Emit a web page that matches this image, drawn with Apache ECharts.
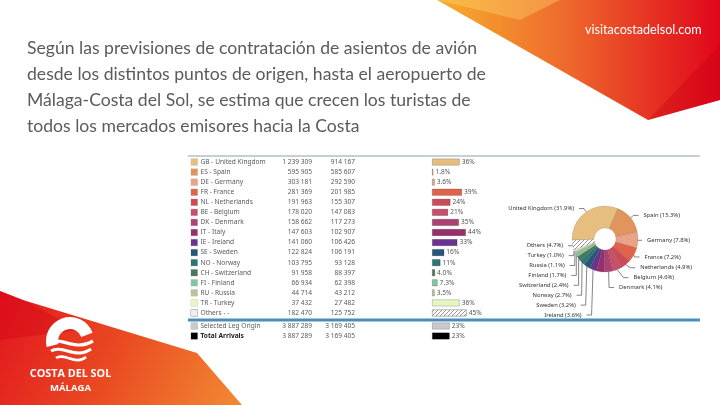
<!DOCTYPE html>
<html><head><meta charset="utf-8">
<script src="https://cdn.jsdelivr.net/npm/echarts@6/dist/echarts.min.js"></script>
<style>html,body{margin:0;padding:0;background:#fff;overflow:hidden}#c{width:720px;height:405px}</style>
</head><body><div id="c"></div>
<script>
// ---------- data ----------
const titleLines = [
  'Según las previsiones de contratación de asientos de avión',
  'desde los distintos puntos de origen, hasta el aeropuerto de',
  'Málaga-Costa del Sol, se estima que crecen los turistas de',
  'todos los mercados emisores hacia la Costa'
];
const siteText = 'visitacostadelsol.com';
const logoLine1 = 'COSTA DEL SOL';
const logoLine2 = 'MÁLAGA';

const marketLabels = ['GB - United Kingdom','ES - Spain','DE - Germany','FR - France','NL - Netherlands','BE - Belgium','DK - Denmark','IT - Italy','IE - Ireland','SE - Sweden','NO - Norway','CH - Switzerland','FI - Finland','RU - Russia','TR - Turkey','Others - -'];
const pieNames = ['United Kingdom','Spain','Germany','France','Netherlands','Belgium','Denmark','Italy','Ireland','Sweden','Norway','Switzerland','Finland','Russia','Turkey','Others'];
const seatsCurrent = [1239309,595905,303181,281369,191963,178020,158662,147603,141060,122824,103795,91958,66934,44714,37432,182470];
const seatsPrevious = [914167,585607,292590,201985,155307,147083,117273,102907,106426,106191,93128,88397,62398,43212,27482,125752];
const growthPct = [36,1.8,3.6,39,24,21,35,44,33,16,11,4.0,7.3,3.5,36,45];
const marketColors = ['#e6bf7f','#df955c','#e9a386','#e0634c','#cd4a58','#c84f6a','#ad4173','#96306b','#6b3391','#26567a','#2b7574','#4c765c','#83c59d','#b9c39c','#e6f5c2','#eeeeee'];

const totalLabels = ['Selected Leg Origin','Total Arrivals'];
const totalCurrent = [3887289,3887289];
const totalPrevious = [3169405,3169405];
const totalGrowth = [23,23];
const totalColors = ['#c9c9c9','#000000'];

// ---------- helpers ----------
function fmt(n){ return String(n).replace(/\B(?=(\d{3})+(?!\d))/g,' '); }
function hatch(){
  const c = document.createElement('canvas'); c.width = 4; c.height = 4;
  const g = c.getContext('2d');
  g.fillStyle = '#ffffff'; g.fillRect(0,0,4,4);
  g.strokeStyle = '#8a8a8a'; g.lineWidth = 0.9;
  g.beginPath(); g.moveTo(0,4); g.lineTo(4,0); g.moveTo(-1,1); g.lineTo(1,-1); g.moveTo(3,5); g.lineTo(5,3); g.stroke();
  return {image:c, repeat:'repeat'};
}
const hatchFill = hatch();
const TF = 'Noto Sans';
const FS = 6.6;

const rich = { n:{fontSize:FS, color:'#5a5a5a', fontFamily:TF, padding:[0,0,0,3]}, nb:{fontSize:FS, color:'#222', fontWeight:'bold', fontFamily:TF, padding:[0,0,0,3]} };
marketColors.forEach((c,i)=>{ rich['m'+i] = {width:6.5, height:6.5, backgroundColor: c, borderColor: i===15 ? '#999' : 'rgba(0,0,0,0.15)', borderWidth:0.5}; });
totalColors.forEach((c,i)=>{ rich['t'+i] = {width:6.5, height:6.5, backgroundColor:c, borderColor:'rgba(0,0,0,0.2)', borderWidth:0.5}; });

function tableAxes(gridIndex, names, cur, prev, prefix, boldLast){
  const base = {type:'category', gridIndex, inverse:true, data:names, position:'left',
    axisLine:{show:false,onZero:false}, axisTick:{show:false}, splitLine:{show:false}};
  const lbl = {interval:0, margin:0, fontSize:FS, color:'#5a5a5a', fontFamily:TF};
  return [
    Object.assign({}, base, {axisLabel:{show:false}}),
    Object.assign({}, base, {offset:77, axisLabel:Object.assign({}, lbl, {formatter:(v,i)=>fmt(prev[i])})}),
    Object.assign({}, base, {offset:120, axisLabel:Object.assign({}, lbl, {formatter:(v,i)=>fmt(cur[i])})}),
    Object.assign({}, base, {offset:241, axisLabel:Object.assign({}, lbl, {align:'left', rich,
      formatter:(v,i)=>'{'+prefix+i+'|}{'+((boldLast && i===names.length-1)?'nb':'n')+'|'+v+'}'})})
  ];
}

const barLabel = {show:true, position:'right', distance:2, fontSize:FS, color:'#555', fontFamily:TF,
  formatter:p=> (p.value<10 ? p.value.toFixed(1) : Math.round(p.value)) + '%'};

const chart = echarts.init(document.getElementById('c'), null, {renderer:'canvas'});
chart.setOption({
  backgroundColor:'#ffffff',
  animation:false,
  title:[
    {text:titleLines.join('\n'), left:27, top:35, padding:0,
     textStyle:{fontFamily:'Lato', fontSize:17.6, fontWeight:'normal', color:'#5b5b5b', lineHeight:26}},
    {text:siteText, left:585, top:23, padding:0,
     textStyle:{fontFamily:'Lato', fontSize:12.6, fontWeight:'normal', color:'#ffffff'}}
  ],
  graphic:[
    {type:'polygon', z:-10, shape:{points:[[437,0],[720,0],[720,100],[648,120]]},
     style:{fill:{type:'linear',x:0,y:0,x2:1,y2:0,colorStops:[{offset:0,color:'#f7ae2e'},{offset:0.45,color:'#ee6a2c'},{offset:1,color:'#e1061b'}]}}},
    {type:'polygon', z:-9, shape:{points:[[437,0],[560,0],[520,20]]}, style:{fill:'rgba(255,220,120,0.35)'}},
    {type:'polygon', z:-9, shape:{points:[[648,120],[720,100],[720,45]]}, style:{fill:'rgba(200,0,20,0.35)'}},
    {type:'polygon', z:-10, shape:{points:[[0,291],[23,300],[197,353],[242,405],[0,405]]},
     style:{fill:{type:'linear',x:0,y:0,x2:1,y2:1,colorStops:[{offset:0,color:'#e2141f'},{offset:0.5,color:'#ea4b22'},{offset:1,color:'#f28a32'}]}}},
    {type:'polygon', z:-9, shape:{points:[[0,291],[23,300],[80,330],[0,340]]}, style:{fill:'rgba(210,0,20,0.35)'}},
    // logo
    {type:'sector', z:-5, shape:{cx:70, cy:341, r0:12, r:24, startAngle:-0.35, endAngle:Math.PI*0.92, clockwise:false}, style:{fill:'#ffffff'}},
    {type:'bezierCurve', z:-5, shape:{x1:50,y1:343,cpx1:62,cpy1:336,cpx2:74,cpy2:352,x2:93,y2:341}, style:{stroke:'#fff', lineWidth:3.2, fill:null}},
    {type:'bezierCurve', z:-5, shape:{x1:51,y1:351,cpx1:62,cpy1:344,cpx2:76,cpy2:360,x2:91,y2:349}, style:{stroke:'#fff', lineWidth:3, fill:null}},
    {type:'bezierCurve', z:-5, shape:{x1:56,y1:358,cpx1:64,cpy1:352,cpx2:76,cpy2:366,x2:86,y2:357}, style:{stroke:'#fff', lineWidth:2.6, fill:null}},
    {type:'text', z:-5, style:{x:70.5, y:374, text:logoLine1, fill:'#fff', font:'bold 10.8px "Open Sans"', textAlign:'center', textVerticalAlign:'middle'}},
    {type:'text', z:-5, style:{x:70.5, y:388, text:logoLine2, fill:'#fff', font:'bold 9.5px "Open Sans"', textAlign:'center', textVerticalAlign:'middle'}},
    // table rules
    {type:'line', z:1, shape:{x1:188,y1:156,x2:700,y2:156}, style:{stroke:'#8aa1ab', lineWidth:1}},
    {type:'line', z:1, shape:{x1:188,y1:320,x2:700,y2:320}, style:{stroke:'#4a8cbb', lineWidth:3}}
  ],
  grid:[
    {left:432, top:157, width:77, height:161, containLabel:false, outerBoundsMode:'none'},
    {left:432, top:321, width:77, height:20, containLabel:false, outerBoundsMode:'none'}
  ],
  xAxis:[
    {type:'value', gridIndex:0, min:0, max:100, show:false},
    {type:'value', gridIndex:1, min:0, max:100, show:false}
  ],
  yAxis: tableAxes(0, marketLabels, seatsCurrent, seatsPrevious, 'm', false)
    .concat(tableAxes(1, totalLabels, totalCurrent, totalPrevious, 't', true)),
  series:[
    {type:'bar', xAxisIndex:0, yAxisIndex:0, barWidth:7, label:barLabel,
     data: growthPct.map((v,i)=>({value:v, itemStyle:{color: i===15 ? hatchFill : marketColors[i], borderColor: i===15 ? '#888' : 'rgba(0,0,0,0.3)', borderWidth:0.6}}))},
    {type:'bar', xAxisIndex:1, yAxisIndex:4, barWidth:7, label:barLabel,
     data: totalGrowth.map((v,i)=>({value:v, itemStyle:{color:totalColors[i], borderColor:'rgba(0,0,0,0.3)', borderWidth:0.6}}))},
    {type:'pie', center:[605,239], radius:[11,33], startAngle:182, clockwise:true,
     avoidLabelOverlap:true,
     label:{show:true, formatter:p=>p.name+' ('+p.percent.toFixed(1)+'%)', fontSize:5.8, lineHeight:7.9, color:'#333', fontFamily:TF},
     labelLine:{show:true, length:4, length2:5, lineStyle:{width:0.6, color:'#333'}},
     itemStyle:{borderColor:'rgba(60,60,60,0.35)', borderWidth:0.4},
     data: pieNames.map((n,i)=>({name:n, value:seatsCurrent[i],
       itemStyle:{color: i===15 ? hatchFill : marketColors[i]},
       label: n==='Italy' ? {show:false} : undefined,
       labelLine: n==='Italy' ? {show:false} : undefined}))}
  ]
});
</script>
</body></html>
